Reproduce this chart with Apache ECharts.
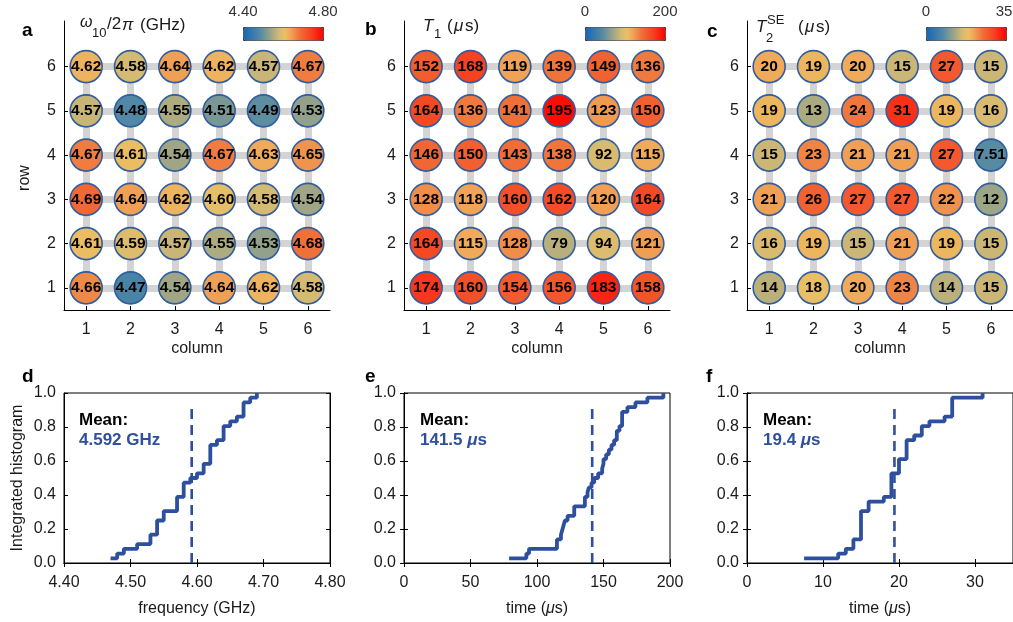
<!DOCTYPE html>
<html><head><meta charset="utf-8">
<script src="https://cdn.jsdelivr.net/npm/echarts@6/dist/echarts.min.js"></script>
<style>html,body{margin:0;padding:0;background:#fff}#c{width:1013px;height:622px}</style>
</head><body><div id="c"></div>
<script>
// ---- data ----
const columns = [1, 2, 3, 4, 5, 6];
const rows = [6, 5, 4, 3, 2, 1]; // top to bottom
const freqGrid = [
  [4.62, 4.58, 4.64, 4.62, 4.57, 4.67],
  [4.57, 4.48, 4.55, 4.51, 4.49, 4.53],
  [4.67, 4.61, 4.54, 4.67, 4.63, 4.65],
  [4.69, 4.64, 4.62, 4.60, 4.58, 4.54],
  [4.61, 4.59, 4.57, 4.55, 4.53, 4.68],
  [4.66, 4.47, 4.54, 4.64, 4.62, 4.58]
];
const t1Grid = [
  [152, 168, 119, 139, 149, 136],
  [164, 136, 141, 195, 123, 150],
  [146, 150, 143, 138, 92, 115],
  [128, 118, 160, 162, 120, 164],
  [164, 115, 128, 79, 94, 121],
  [174, 160, 154, 156, 183, 158]
];
const t2Grid = [
  [20, 19, 20, 15, 27, 15],
  [19, 13, 24, 31, 19, 16],
  [15, 23, 21, 21, 27, 7.51],
  [21, 26, 27, 27, 22, 12],
  [16, 19, 15, 21, 19, 15],
  [14, 18, 20, 23, 14, 15]
];
const means = [4.592, 141.5, 19.4];
const meanLabels = ['4.592 GHz', '141.5 ', '19.4 '];
const colorRanges = [[4.40, 4.80], [0, 200], [0, 35]];
const colorbarLabels = [['4.40', '4.80'], ['0', '200'], ['0', '35']];
const cdfYTicks = [0, 0.2, 0.4, 0.6, 0.8, 1.0];
const cdfXRanges = [[4.40, 4.80], [0, 200], [0, 35]];
const cdfXTicks = [[4.40, 4.50, 4.60, 4.70, 4.80], [0, 50, 100, 150, 200], [0, 10, 20, 30]];
const cdfXNames = ['frequency (GHz)', 'time ({i|μ}s)', 'time ({i|μ}s)'];

// ---- layout / style ----
const FONT = '"Liberation Sans", Arial, sans-serif';
const TXT = '#1a1a1a';
const BLUE = '#2d4f9e';
const lefts = [64, 404, 747];
const W = 266;
const topY = 21, topH = 289;
const botY = 393, botH = 170;
// colormap stops (position, colour)
const cstops = [[0, '#1766b4'], [0.2, '#5088a5'], [0.35, '#a0a685'], [0.45, '#d6ba72'], [0.52, '#ebbf64'],
  [0.6, '#f0a055'], [0.7, '#f07038'], [0.85, '#f5401f'], [1, '#ff0000']];
function hex(c) { return [1, 3, 5].map(i => parseInt(c.substr(i, 2), 16)); }
const cmap = [];
for (let k = 0; k <= 50; k++) {
  const t = k / 50;
  let s = 0; while (s < cstops.length - 2 && t > cstops[s + 1][0]) s++;
  const a = cstops[s], b = cstops[s + 1];
  const u = (t - a[0]) / (b[0] - a[0]);
  const ca = hex(a[1]), cb = hex(b[1]);
  cmap.push('rgb(' + ca.map((v, i) => Math.round(v + (cb[i] - v) * u)).join(',') + ')');
}

const grids = [], xAxes = [], yAxes = [], series = [], visualMaps = [], graphics = [];
const grids3 = [freqGrid, t1Grid, t2Grid];
const fmt = [v => v.toFixed(2), v => String(v), v => String(v)];

const baseAxis = {
  axisLine: { show: true, lineStyle: { color: '#000', width: 1 } },
  axisTick: { show: true, inside: true, length: 4, lineStyle: { color: '#000' } },
  splitLine: { show: false },
  axisLabel: { color: TXT, fontSize: 16, fontFamily: FONT },
  nameTextStyle: { color: TXT, fontSize: 16, fontFamily: FONT,
    rich: { i: { fontStyle: 'italic', fontSize: 16, fontFamily: FONT, color: TXT } } }
};

for (let p = 0; p < 3; p++) {
  grids.push({ left: lefts[p], top: topY, width: W, height: topH });
}
for (let p = 0; p < 3; p++) {
  grids.push({ left: lefts[p], top: botY, width: W, height: botH, show: true, borderColor: '#000', borderWidth: 1 });
}
// top panel axes (0..2)
for (let p = 0; p < 3; p++) {
  xAxes.push(Object.assign({}, baseAxis, {
    type: 'value', gridIndex: p, min: 0.5, max: 6.5,
    axisTick: Object.assign({}, baseAxis.axisTick, { customValues: columns }),
    axisLabel: Object.assign({}, baseAxis.axisLabel, { customValues: columns, margin: 12 }),
    name: 'column', nameLocation: 'middle', nameGap: 31
  }));
  yAxes.push(Object.assign({}, baseAxis, {
    type: 'value', gridIndex: p, min: 0.5, max: 7.03,
    axisTick: Object.assign({}, baseAxis.axisTick, { customValues: columns }),
    axisLabel: Object.assign({}, baseAxis.axisLabel, { customValues: columns, margin: 8 })
  }));
}
// bottom panel axes (3..5) and mirrors (6..8)
for (let p = 0; p < 3; p++) {
  xAxes.push(Object.assign({}, baseAxis, {
    type: 'value', gridIndex: 3 + p, min: cdfXRanges[p][0], max: cdfXRanges[p][1],
    axisTick: Object.assign({}, baseAxis.axisTick, { customValues: cdfXTicks[p] }),
    axisLabel: Object.assign({}, baseAxis.axisLabel, { customValues: cdfXTicks[p], margin: 12,
      formatter: p === 0 ? (v => v.toFixed(2)) : (v => String(v)) }),
    name: cdfXNames[p], nameLocation: 'middle', nameGap: 38
  }));
  yAxes.push(Object.assign({}, baseAxis, {
    type: 'value', gridIndex: 3 + p, min: 0, max: 1,
    axisTick: Object.assign({}, baseAxis.axisTick, { customValues: cdfYTicks }),
    axisLabel: Object.assign({}, baseAxis.axisLabel, { customValues: cdfYTicks, margin: 8, formatter: v => v.toFixed(1) }),
    name: p === 0 ? 'Integrated histogram' : '', nameLocation: 'middle', nameGap: 38
  }));
}
for (let p = 0; p < 3; p++) {
  xAxes.push(Object.assign({}, baseAxis, {
    type: 'value', gridIndex: 3 + p, position: 'top', min: cdfXRanges[p][0], max: cdfXRanges[p][1],
    axisTick: Object.assign({}, baseAxis.axisTick, { customValues: cdfXTicks[p] }),
    axisLabel: { show: false }
  }));
  yAxes.push(Object.assign({}, baseAxis, {
    type: 'value', gridIndex: 3 + p, position: 'right', min: 0, max: 1,
    axisTick: Object.assign({}, baseAxis.axisTick, { customValues: cdfYTicks }),
    axisLabel: { show: false }
  }));
}

// top panel series
for (let p = 0; p < 3; p++) {
  const conn = [];
  rows.forEach(r => conn.push({ coords: [[columns[0], r], [columns[5], r]] }));
  columns.forEach(c => conn.push({ coords: [[c, rows[5]], [c, rows[0]]] }));
  series.push({
    type: 'lines', coordinateSystem: 'cartesian2d', xAxisIndex: p, yAxisIndex: p,
    data: conn, lineStyle: { color: '#d4d4d4', width: 7, opacity: 1 }, silent: true, z: 1
  });
  const pts = [];
  rows.forEach((r, i) => columns.forEach((c, j) => pts.push([c, r, grids3[p][i][j]])));
  const f = fmt[p];
  series.push({
    type: 'scatter', xAxisIndex: p, yAxisIndex: p, data: pts, symbolSize: 32, z: 3,
    itemStyle: { borderColor: '#2f5d9f', borderWidth: 1.6, opacity: 1 },
    label: { show: true, position: 'inside', formatter: d => f(d.value[2]),
      color: '#000', fontWeight: 'bold', fontSize: 15.5, fontFamily: FONT }
  });
  visualMaps.push({
    type: 'continuous', seriesIndex: series.length - 1, dimension: 2,
    min: colorRanges[p][0], max: colorRanges[p][1], orient: 'horizontal',
    left: [243, 585, 926][p], top: 27, itemWidth: 13, itemHeight: 80,
    calculable: false, padding: 0, borderColor: '#333', borderWidth: 1,
    inRange: { color: cmap }, text: null, hoverLink: false
  });
}
// bottom panel series
for (let p = 0; p < 3; p++) {
  const vals = grids3[p].flat().slice().sort((a, b) => a - b);
  const n = vals.length;
  const stepData = vals.map((v, i) => [v, (i + 1) / n]);
  series.push({
    type: 'line', xAxisIndex: 3 + p, yAxisIndex: 3 + p, data: stepData, step: 'end',
    symbol: 'none', lineStyle: { color: BLUE, width: 3.8 }, z: 3, silent: true
  });
  series.push({
    type: 'line', xAxisIndex: 3 + p, yAxisIndex: 3 + p, data: [[means[p], 0], [means[p], 0.94]],
    symbol: 'none', lineStyle: { color: BLUE, width: 2.6, type: [10, 6] }, z: 2, silent: true
  });
}

// ---- text annotations ----
function txt(x, y, s, o) {
  graphics.push({ type: 'text', x: x, y: y, rotation: (o && o.rot) || 0, z: 100, style: Object.assign({
    text: s, fontFamily: FONT, fontSize: 16, fill: TXT, align: 'left', verticalAlign: 'middle'
  }, o || {}) });
}
// panel letters
[['a', 22, 31], ['b', 365, 30], ['c', 707, 32], ['d', 22, 377], ['e', 365, 377], ['f', 706, 377]]
  .forEach(l => txt(l[1], l[2], l[0], { fontWeight: 'bold', fontSize: 19, fill: '#000' }));
// colorbar labels
const cbX = [[243, 323], [585, 665], [926, 1004]];
for (let p = 0; p < 3; p++) {
  txt(cbX[p][0], 12, colorbarLabels[p][0], { align: 'center', fill: '#333', fontSize: 15 });
  txt(cbX[p][1], 12, colorbarLabels[p][1], { align: 'center', fill: '#333', fontSize: 15 });
}
// titles
txt(80, 23, 'ω', { fontStyle: 'italic', fontSize: 16 });
txt(92, 33, '10', { fontSize: 13 });
txt(107, 24, '/2', { fontSize: 17 });
txt(122, 25, 'π', { fontStyle: 'italic', fontSize: 17 });
txt(140, 25, '(GHz)', { fontSize: 17 });
txt(423, 26, 'T', { fontStyle: 'italic', fontSize: 17 });
txt(434, 34, '1', { fontSize: 13 });
txt(447, 26, '(', { fontSize: 17 });
txt(454, 26, 'μ', { fontStyle: 'italic', fontSize: 17 });
txt(465, 26, 's)', { fontSize: 17 });
txt(756, 27, 'T', { fontStyle: 'italic', fontSize: 17 });
txt(767, 20, 'SE', { fontSize: 13 });
txt(766, 38, '2', { fontSize: 13 });
txt(798, 27, '(', { fontSize: 17 });
txt(805, 27, 'μ', { fontStyle: 'italic', fontSize: 17 });
txt(816, 27, 's)', { fontSize: 17 });
// row axis name
txt(25, 178, 'row', { align: 'center', rot: Math.PI / 2, fontSize: 16 });
// mean annotations
const meanX = [79, 420, 763];
for (let p = 0; p < 3; p++) {
  txt(meanX[p], 420, 'Mean:', { fontWeight: 'bold', fontSize: 17, fill: '#000' });
  graphics.push({ type: 'text', x: meanX[p], y: 440, z: 100, style: {
    text: p === 0 ? '{b|' + meanLabels[p] + '}' : '{b|' + meanLabels[p] + '}{i|μ}{b|s}',
    verticalAlign: 'middle', align: 'left',
    rich: {
      b: { fontFamily: FONT, fontWeight: 'bold', fontSize: 17, fill: BLUE, color: BLUE },
      i: { fontFamily: FONT, fontWeight: 'bold', fontStyle: 'italic', fontSize: 17, fill: BLUE, color: BLUE }
    }
  } });
}

const chart = echarts.init(document.getElementById('c'), null, { renderer: 'canvas' });
chart.setOption({
  animation: false,
  backgroundColor: '#fff',
  grid: grids, xAxis: xAxes, yAxis: yAxes,
  visualMap: visualMaps, series: series, graphic: graphics
});
</script></body></html>
